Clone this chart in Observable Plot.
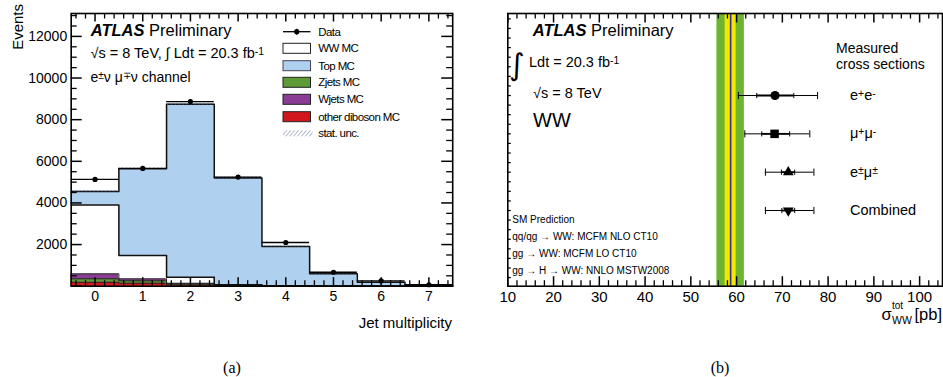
<!DOCTYPE html>
<html>
<head>
<meta charset="utf-8">
<script src="https://cdn.jsdelivr.net/npm/d3@7"></script>
<script src="https://cdn.jsdelivr.net/npm/@observablehq/plot@0.6"></script>
<style>
  html, body { margin: 0; padding: 0; background: #fff; }
  #wrap { position: relative; width: 943px; height: 377px; overflow: hidden; }
  #wrap > svg.plot { position: absolute; top: 0; }
</style>
</head>
<body>
<svg width="0" height="0" style="position:absolute">
  <defs>
    <pattern id="hatch" patternUnits="userSpaceOnUse" width="3" height="3" patternTransform="rotate(40)">
      <line x1="0" y1="0" x2="0" y2="3" stroke="#55608c" stroke-width="0.9"/>
    </pattern>
  </defs>
</svg>
<div id="wrap"></div>
<script>
// ---------------- Data: panel (a) jet multiplicity ----------------
const jetBins = [0, 1, 2, 3, 4, 5, 6, 7];
const otherDibosonMC = [190, 145, 60, 15, 5, 2, 1, 0];
const zjetsMC = [165, 115, 50, 10, 4, 1, 0, 0];
const wjetsMC = [240, 95, 30, 5, 2, 1, 0, 0];
const wwMC = [3310, 1120, 293, 40, 15, 5, 2, 1];
const topMC = [648, 4165, 8302, 5130, 1880, 587, 189, 60];
const dataEvents = [5130, 5660, 8870, 5240, 2100, 670, 255, 70];
const dataErr = [72, 75, 94, 72, 46, 26, 16, 8];
const statUnc = [50, 50, 60, 50, 35, 20, 10, 5];
const eventTickLabels = [2000, 4000, 6000, 8000, 10000, 12000];
const legendNames = ["Data", "WW MC", "Top MC", "Zjets MC", "Wjets MC", "other diboson MC", "stat. unc."];

// ---------------- Data: panel (b) cross sections ----------------
const channelIndex = [0, 1, 2, 3];
const xsCentral = [68.4, 68.3, 71.3, 71.3];
const xsStatLo = [64.4, 65.5, 69.8, 69.9];
const xsStatHi = [72.5, 71.6, 72.7, 72.7];
const xsTotLo = [60.4, 61.8, 66.3, 66.3];
const xsTotHi = [77.7, 76.0, 76.9, 76.9];
const smCenter = 58.7, smInner = 1.2, smOuter = 3.0;
const xsTickLabels = [10, 20, 30, 40, 50, 60, 70, 80, 90, 100];
const smLines = ["SM Prediction", "qq/qg \u2192 WW: MCFM NLO CT10", "gg \u2192 WW: MCFM LO CT10", "gg \u2192 H \u2192 WW: NNLO MSTW2008"];

const FONT = "'Liberation Sans', Arial, Helvetica, sans-serif";
const colors = {other: "#d2171c", zjets: "#5e9a35", wjets: "#8b3c95", ww: "#ffffff", top: "#afd0ee"};

// ---------- stacked histogram table ----------
const comps = [
  {key: "other", values: otherDibosonMC},
  {key: "zjets", values: zjetsMC},
  {key: "wjets", values: wjetsMC},
  {key: "ww", values: wwMC},
  {key: "top", values: topMC}
];
const stackRows = [];
const cum = jetBins.map(() => 0);
const outlines = [];
for (const c of comps) {
  const pts = [];
  jetBins.forEach((b, j) => {
    const y1 = cum[j], y2 = cum[j] + c.values[j];
    stackRows.push({bin: b, key: c.key, y1, y2});
    cum[j] = y2;
    pts.push({x: b - 0.5, y: y2, key: c.key});
  });
  pts.push({x: jetBins[jetBins.length - 1] + 0.5, y: cum[jetBins.length - 1], key: c.key});
  outlines.push(pts);
}
const totals = cum.slice();
const dataRows = jetBins.map((b, j) => ({bin: b, v: dataEvents[j], e: dataErr[j]}));
const uncRows = jetBins.map((b, j) => ({bin: b, lo: totals[j] - statUnc[j], hi: totals[j] + statUnc[j]}));

// ---------- helpers ----------
function rich(g, x, y, parts, size, opts = {}) {
  const t = g.append("text").attr("x", x).attr("y", y)
    .attr("font-size", size).attr("font-family", opts.family || FONT)
    .attr("text-anchor", opts.anchor || "start").attr("fill", "black");
  if (opts.spacing) t.attr("letter-spacing", opts.spacing);
  for (const p of parts) {
    const [s, k] = Array.isArray(p) ? p : [p, null];
    const ts = t.append("tspan").text(s);
    if (k === "sup") ts.attr("baseline-shift", "35%").attr("font-size", size * 0.72);
    if (k === "sub") ts.attr("baseline-shift", "-25%").attr("font-size", size * 0.72);
    if (k === "bi") ts.attr("font-weight", "bold").attr("font-style", "italic");
  }
  return t;
}

// ================= Panel (a) =================
const A = {w: 470, h: 377, ml: 70.7, mr: 17.8, mt: 13, mb: 91.3};
const aiw = A.w - A.ml - A.mr, aih = A.h - A.mt - A.mb;
const aX = [-0.5, 7.5], aY = [0, 13100];
const axPx = (aX[1] - aX[0]) / aiw, ayPx = (aY[1] - aY[0]) / aih;
const yMajor = d3.range(0, 12001, 2000);
const yMinor = d3.range(500, 13001, 500).filter(v => v % 2000 !== 0);
const xMajorA = jetBins;
const xMinorA = d3.range(-2, 38).filter(i => i % 5 !== 0).map(i => i / 5);

const TK = "black";
const left = Plot.plot({
  width: A.w, height: A.h,
  marginLeft: A.ml, marginRight: A.mr, marginTop: A.mt, marginBottom: A.mb,
  style: {fontFamily: FONT, fontSize: "14px", background: "transparent", color: "black"},
  x: {domain: aX, ticks: jetBins, tickSize: 0, tickPadding: 5, label: null, tickFormat: d => String(d)},
  y: {domain: aY, ticks: eventTickLabels, tickSize: 0, tickPadding: 4, label: null, tickFormat: d => String(d)},
  marks: [
    Plot.rect(stackRows, {x1: d => d.bin - 0.5, x2: d => d.bin + 0.5, y1: "y1", y2: "y2",
      fill: d => colors[d.key], stroke: d => colors[d.key], strokeWidth: 0.6}),
    ...outlines.map((pts, i) => Plot.line(pts, {x: "x", y: "y", curve: "step-after",
      stroke: i < 3 ? "#222" : "#111", strokeWidth: i < 3 ? 1 : 1.5})),
    Plot.rect(uncRows, {x1: d => d.bin - 0.5, x2: d => d.bin + 0.5, y1: "lo", y2: "hi", fill: "url(#hatch)"}),
    Plot.ruleY(dataRows, {y: "v", x1: d => d.bin - 0.5, x2: d => d.bin + 0.5, stroke: "black", strokeWidth: 1.3}),
    Plot.ruleX(dataRows, {x: "bin", y1: d => d.v - d.e, y2: d => d.v + d.e, stroke: "black", strokeWidth: 1.3}),
    Plot.dot(dataRows, {x: "bin", y: "v", r: 2.6, fill: "black"}),
    // inward ticks
    Plot.ruleY(yMajor, {y: d => d, x1: aX[0], x2: aX[0] + 11 * axPx, stroke: TK, strokeWidth: 1.5}),
    Plot.ruleY(yMinor, {y: d => d, x1: aX[0], x2: aX[0] + 6 * axPx, stroke: TK, strokeWidth: 1.3}),
    Plot.ruleY(yMajor, {y: d => d, x1: aX[1], x2: aX[1] - 11 * axPx, stroke: TK, strokeWidth: 1.5}),
    Plot.ruleY(yMinor, {y: d => d, x1: aX[1], x2: aX[1] - 6 * axPx, stroke: TK, strokeWidth: 1.3}),
    Plot.ruleX(xMajorA, {x: d => d, y1: aY[0], y2: aY[0] + 8.5 * ayPx, stroke: TK, strokeWidth: 1.5}),
    Plot.ruleX(xMinorA, {x: d => d, y1: aY[0], y2: aY[0] + 5.5 * ayPx, stroke: TK, strokeWidth: 1.3}),
    Plot.ruleX(xMajorA, {x: d => d, y1: aY[1], y2: aY[1] - 8.5 * ayPx, stroke: TK, strokeWidth: 1.5}),
    Plot.ruleX(xMinorA, {x: d => d, y1: aY[1], y2: aY[1] - 5.5 * ayPx, stroke: TK, strokeWidth: 1.3}),
    Plot.frame({stroke: "black", strokeWidth: 1.6})
  ]
});
left.classList.add("plot");
left.style.left = "0px";
document.getElementById("wrap").appendChild(left);

{
  const g = d3.select(left).append("g");
  g.append("text").attr("transform", "translate(22.5,4) rotate(-90)").attr("text-anchor", "end")
    .attr("font-family", FONT).attr("font-size", 15).text("Events");
  rich(g, 452, 328, ["Jet multiplicity"], 15, {anchor: "end"});
  rich(g, 90.7, 36, [["ATLAS", "bi"], " Preliminary"], 16.5);
  rich(g, 90.5, 58, ["\u221As = 8 TeV, \u222B Ldt = 20.3 fb", ["-1", "sup"]], 14.5);
  rich(g, 90.5, 82, ["e", ["\u00B1", "sup"], "\u03BD \u03BC", ["\u2213", "sup"], "\u03BD channel"], 14);
  const lx0 = 283, lx1 = 310.5, tx = 318.3;
  const rowY = [31.7, 48.3, 65.7, 82.3, 99.3, 116.7, 133.3];
  g.append("line").attr("x1", lx0).attr("x2", lx1).attr("y1", rowY[0]).attr("y2", rowY[0]).attr("stroke", "black").attr("stroke-width", 1.3);
  g.append("line").attr("x1", (lx0 + lx1) / 2).attr("x2", (lx0 + lx1) / 2).attr("y1", rowY[0] - 3).attr("y2", rowY[0] + 3).attr("stroke", "black").attr("stroke-width", 1.2);
  g.append("circle").attr("cx", (lx0 + lx1) / 2).attr("cy", rowY[0]).attr("r", 2.6).attr("fill", "black");
  const boxKeys = ["ww", "top", "zjets", "wjets", "other"];
  boxKeys.forEach((k, i) => {
    g.append("rect").attr("x", lx0).attr("y", rowY[i + 1] - 5).attr("width", lx1 - lx0).attr("height", 10)
      .attr("fill", colors[k]).attr("stroke", k === "top" ? "#445" : "#222").attr("stroke-width", 1);
  });
  g.append("rect").attr("x", lx0).attr("y", rowY[6] - 3).attr("width", lx1 - lx0 + 2).attr("height", 6).attr("fill", "url(#hatch)");
  legendNames.forEach((n, i) => {
    rich(g, tx, rowY[i] + 4, [n], 11.5, {spacing: -0.6});
  });
  rich(g, 232, 373, ["(a)"], 16, {anchor: "middle", family: "'Liberation Serif', 'Times New Roman', serif"});
}

// ================= Panel (b) =================
const B = {w: 463, h: 377, ml: 27.3, mr: 1, mt: 13, mb: 91.3};
const biw = B.w - B.ml - B.mr, bih = B.h - B.mt - B.mb;
const bX = [10, 105], bY = [4.975, -2.14];
const bxPx = (bX[1] - bX[0]) / biw, byPx = (bY[0] - bY[1]) / bih;
const xsRows = channelIndex.map(i => ({i, c: xsCentral[i], slo: xsStatLo[i], shi: xsStatHi[i], tlo: xsTotLo[i], thi: xsTotHi[i]}));
const xMajorB = d3.range(10, 101, 10);
const xMinorB = d3.range(12, 105, 2).filter(v => v % 10 !== 0);
const yMinorB = d3.range(-2, 5, 0.25);
const capSymbol = {draw(ctx, size) { const r = Math.sqrt(size / Math.PI); ctx.moveTo(0, -r); ctx.lineTo(0, r); }};
const triDown = {draw(ctx, size) {
  const y = Math.sqrt(size / (Math.sqrt(3) * 3));
  ctx.moveTo(0, 2 * y); ctx.lineTo(-Math.sqrt(3) * y, -y); ctx.lineTo(Math.sqrt(3) * y, -y); ctx.closePath();
}};

const right = Plot.plot({
  width: B.w, height: B.h,
  marginLeft: B.ml, marginRight: B.mr, marginTop: B.mt, marginBottom: B.mb,
  style: {fontFamily: FONT, fontSize: "15px", background: "transparent", color: "black"},
  x: {domain: bX, ticks: xsTickLabels, tickSize: 0, tickPadding: 5, label: null, tickFormat: d => String(d)},
  y: {domain: bY, axis: null},
  marks: [
    Plot.rect([smCenter], {x1: d => d - smOuter, x2: d => d + smOuter, fill: "#6db52f"}),
    Plot.rect([smCenter], {x1: d => d - smInner, x2: d => d + smInner, fill: "#f7e600"}),
    Plot.ruleX([smCenter], {x: d => d, stroke: "#2a3597", strokeWidth: 1.6}),
    Plot.ruleY(xsRows, {y: "i", x1: "tlo", x2: "thi", stroke: "black", strokeWidth: 1}),
    Plot.ruleY(xsRows, {y: "i", x1: "slo", x2: "shi", stroke: "black", strokeWidth: 1.8}),
    Plot.dot(xsRows, {x: "tlo", y: "i", symbol: capSymbol, r: 3.6, stroke: "black", strokeWidth: 1}),
    Plot.dot(xsRows, {x: "thi", y: "i", symbol: capSymbol, r: 3.6, stroke: "black", strokeWidth: 1}),
    Plot.dot(xsRows, {x: "slo", y: "i", symbol: capSymbol, r: 2.6, stroke: "black", strokeWidth: 1}),
    Plot.dot(xsRows, {x: "shi", y: "i", symbol: capSymbol, r: 2.6, stroke: "black", strokeWidth: 1}),
    Plot.dot(xsRows, {filter: d => d.i === 0, x: "c", y: "i", symbol: "circle", r: 4.6, fill: "black"}),
    Plot.dot(xsRows, {filter: d => d.i === 1, x: "c", y: "i", symbol: "square", r: 4.8, fill: "black"}),
    Plot.dot(xsRows, {filter: d => d.i === 2, x: "c", y: "i", symbol: "triangle", r: 4.0, fill: "black"}),
    Plot.dot(xsRows, {filter: d => d.i === 3, x: "c", y: "i", symbol: triDown, r: 4.0, fill: "black"}),
    // inward ticks
    Plot.ruleY(yMinorB, {y: d => d, x1: bX[0], x2: bX[0] + 3.5 * bxPx, stroke: TK, strokeWidth: 1.2}),
    Plot.ruleX(xMajorB, {x: d => d, y1: bY[0], y2: bY[0] - 9.5 * byPx, stroke: TK, strokeWidth: 1.5}),
    Plot.ruleX(xMinorB, {x: d => d, y1: bY[0], y2: bY[0] - 5.5 * byPx, stroke: TK, strokeWidth: 1.3}),
    Plot.ruleX(xMajorB, {x: d => d, y1: bY[1], y2: bY[1] + 9.5 * byPx, stroke: TK, strokeWidth: 1.5}),
    Plot.ruleX(xMinorB, {x: d => d, y1: bY[1], y2: bY[1] + 5.5 * byPx, stroke: TK, strokeWidth: 1.3}),
    Plot.frame({stroke: "black", strokeWidth: 1.6})
  ]
});
right.classList.add("plot");
right.style.left = "480px";
document.getElementById("wrap").appendChild(right);

{
  const g = d3.select(right).append("g");
  const yS = right.scale("y");
  rich(g, 52.7, 36, [["ATLAS", "bi"], " Preliminary"], 16.5);
  rich(g, 29, 75, ["\u222B"], 30, {family: "'DejaVu Sans', sans-serif"});
  rich(g, 49, 67, ["Ldt = 20.3 fb", ["-1", "sup"]], 14.5);
  rich(g, 53, 98, ["\u221As = 8 TeV"], 14.5);
  rich(g, 53, 127, ["WW"], 20);
  rich(g, 356, 53, ["Measured"], 14);
  rich(g, 356, 69, ["cross sections"], 14);
  const labels = [
    ["e", ["+", "sup"], "e", ["-", "sup"]],
    ["\u03BC", ["+", "sup"], "\u03BC", ["-", "sup"]],
    ["e", ["\u00B1", "sup"], "\u03BC", ["\u00B1", "sup"]],
    ["Combined"]
  ];
  channelIndex.forEach(i => rich(g, 370, yS.apply(i) + 5, labels[i], 14.5));
  const smY = [223.3, 240, 257, 274];
  smLines.forEach((s, i) => rich(g, 32.3, smY[i], [s], 10));
  rich(g, 401.5, 320, ["\u03C3"], 16.5);
  rich(g, 412, 309, ["tot"], 10);
  rich(g, 412, 324, ["WW"], 10.5);
  rich(g, 462, 320, ["[pb]"], 16.5, {anchor: "end"});
  rich(g, 240, 373, ["(b)"], 16, {anchor: "middle", family: "'Liberation Serif', 'Times New Roman', serif"});
}
</script>
</body>
</html>
